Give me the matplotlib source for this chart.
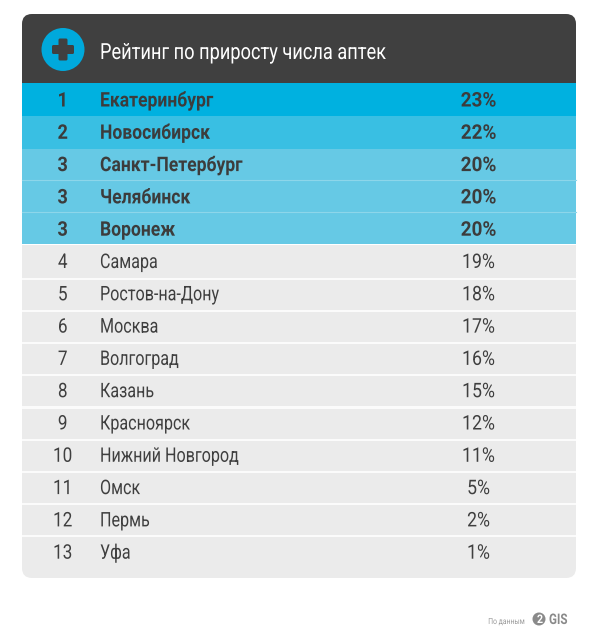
# coding:utf-8
import matplotlib
matplotlib.use("Agg")
import matplotlib.pyplot as plt
from matplotlib.patches import FancyBboxPatch, Circle, Rectangle
from matplotlib.patheffects import AbstractPathEffect
from matplotlib.transforms import Affine2D

ranks = ["1", "2", "3", "3", "3", "4", "5", "6", "7", "8", "9", "10", "11", "12", "13"]
cities = ["Екатеринбург", "Новосибирск", "Санкт-Петербург", "Челябинск", "Воронеж",
          "Самара", "Ростов-на-Дону", "Москва", "Волгоград", "Казань",
          "Красноярск", "Нижний Новгород", "Омск", "Пермь", "Уфа"]
growth = [23, 22, 20, 20, 20, 19, 18, 17, 16, 15, 12, 11, 5, 2, 1]
top_colors = ["#00b1e0", "#39bfe3", "#66c9e5", "#66c9e5", "#66c9e5"]

title = "Рейтинг по приросту числа аптек"
DARK = "#404040"
FONT = ["Roboto", "DejaVu Sans"]


# no condensed font installed, so squeeze the glyphs sideways around the anchor
class Squeeze(AbstractPathEffect):
    def __init__(self, x0, sx):
        super().__init__()
        self.x0 = x0
        self.sx = sx

    def draw_path(self, renderer, gc, tpath, affine, rgbFace=None):
        squeeze = Affine2D().translate(-self.x0, 0).scale(self.sx, 1).translate(self.x0, 0)
        renderer.draw_path(gc, tpath, affine + squeeze, rgbFace)


def label(x, y, s, sx, **kw):
    t = ax.text(x, y, s, family=FONT, va="baseline", **kw)
    t.set_path_effects([Squeeze(x, sx)])
    return t


fig = plt.figure(figsize=(6.0, 6.43), dpi=100)
ax = fig.add_axes([0, 0, 1, 1])
ax.set_xlim(0, 600)
ax.set_ylim(643, 0)
ax.axis("off")

left, right = 22, 576
top, bottom = 14, 578

# rounded card, everything else gets clipped to it
card = FancyBboxPatch((left + 10, top + 10), right - left - 20, bottom - top - 20,
                      boxstyle="round,pad=10,rounding_size=10", fc="#ebebeb", ec="none")
ax.add_patch(card)

head = Rectangle((left, top), right - left, 68.5, fc=DARK, ec="none")
ax.add_patch(head)
head.set_clip_path(card)

# top five rows are blue
row_y = [82.5, 116, 149, 180, 212]
row_b = [116, 149, 180, 212, 243.5]
for y0, y1, c in zip(row_y, row_b, top_colors):
    ax.add_patch(Rectangle((left, y0), right - left, y1 - y0, fc=c, ec="none"))
for y in [179.5, 211.5]:
    ax.plot([left, right], [y, y], color="#8dd6ea", lw=0.8)
ax.add_patch(Rectangle((left, 243.5), right - left, 1.5, fc="white", ec="none"))

# white gaps between the grey rows
for k in range(9):
    ax.add_patch(Rectangle((left, 277.5 + k * 32.2), right - left, 2.2, fc="#fbfbfb", ec="none"))

# header icon
ax.add_patch(Circle((63, 49.5), 21.5, fc="#00a9dc", ec="none"))
ax.add_patch(FancyBboxPatch((53, 46), 20, 7, boxstyle="round,pad=1,rounding_size=1.5",
                            fc=DARK, ec="none"))
ax.add_patch(FancyBboxPatch((59.5, 39.5), 7, 20, boxstyle="round,pad=1,rounding_size=1.5",
                            fc=DARK, ec="none"))
label(100, 59, title, 0.82, color="white", fontsize=16)

for i in range(len(cities)):
    y = 106.5 + i * 32.3
    bold = i < 5
    weight = "bold" if bold else "normal"
    col = "#3c3c3c" if bold else "#3f3f3f"
    label(62.7, y, ranks[i], 0.9 if bold else 0.85, color=col, fontsize=14.5, weight=weight,
          ha="center")
    label(100, y, cities[i], 0.87 if bold else 0.8, color=col, fontsize=14.5, weight=weight)
    label(478.5, y, str(growth[i]) + "%", 0.94 if bold else 0.88, color=col, fontsize=14.5,
          weight=weight, ha="center")

# source line and logo
label(506.5, 624, "По данным", 0.82, color="#9a9a9a", fontsize=6, ha="center")
ax.add_patch(Circle((539, 619), 6.5, fc="#8a8a8a", ec="none"))
label(540, 623, "2", 0.9, color="white", fontsize=8.5, weight="bold", ha="center")
label(549, 624, "GIS", 0.8, color="#8a8a8a", fontsize=10.5, weight="bold")

fig.savefig("out.png", dpi=100)
